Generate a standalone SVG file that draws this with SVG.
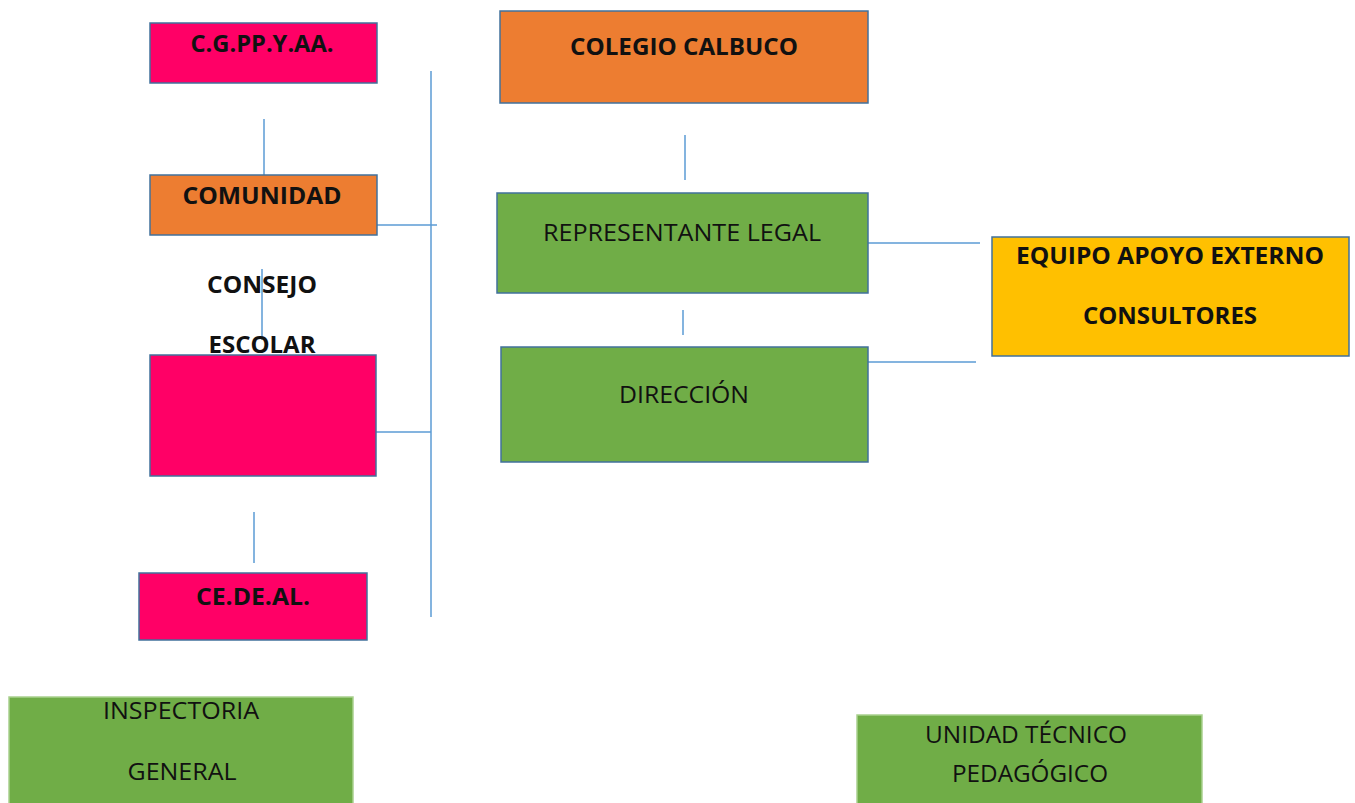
<svg xmlns="http://www.w3.org/2000/svg" width="1355" height="803" viewBox="0 0 1355 803">
<style>
.box{stroke:#41719C;stroke-width:1.5}
.pink{fill:#FF0066}
.orange{fill:#ED7D31}
.green{fill:#70AD47}
.yellow{fill:#FFC000}
.soft{fill:#70AD47;stroke:#A9D18E;stroke-width:1.5}
.t{font-family:"Open Sans","Noto Sans",sans-serif;font-size:24px;fill:#111;text-anchor:middle}
.b{font-weight:bold}
.c line{stroke:#5B9BD5;stroke-width:1.5}
</style>
<rect width="1355" height="803" fill="#fff"/>
<g class="c" id="connectors">
<line x1="264" y1="119" x2="264" y2="178"/>
<line x1="377" y1="225" x2="437" y2="225"/>
<line x1="431" y1="71" x2="431" y2="617"/>
<line x1="262" y1="269" x2="262" y2="340"/>
<line x1="376" y1="432" x2="431" y2="432"/>
<line x1="254" y1="512" x2="254" y2="563"/>
<line x1="685" y1="135" x2="685" y2="180"/>
<line x1="683" y1="310" x2="683" y2="335"/>
<line x1="868" y1="243" x2="980" y2="243"/>
<line x1="868" y1="362" x2="976" y2="362"/>
</g>
<g id="cgppyaa">
<rect class="box pink" x="150" y="23" width="227" height="60"/>
<text class="t b" x="262" y="52" textLength="143" lengthAdjust="spacingAndGlyphs">C.G.PP.Y.AA.</text>
</g>
<g id="comunidad">
<rect class="box orange" x="150" y="175" width="227" height="60"/>
<text class="t b" x="262" y="204" textLength="159" lengthAdjust="spacingAndGlyphs">COMUNIDAD</text>
</g>
<g id="consejo">
<text class="t b" x="262" y="293" textLength="110" lengthAdjust="spacingAndGlyphs">CONSEJO</text>
<text class="t b" x="262" y="353" textLength="107" lengthAdjust="spacingAndGlyphs">ESCOLAR</text>
<rect class="box pink" x="150" y="355" width="226" height="121"/>
</g>
<g id="cedeal">
<rect class="box pink" x="139" y="573" width="228" height="67"/>
<text class="t b" x="253" y="605" textLength="114" lengthAdjust="spacingAndGlyphs">CE.DE.AL.</text>
</g>
<g id="colegio">
<rect class="box orange" x="500" y="11" width="368" height="92"/>
<text class="t b" x="684" y="55" textLength="228" lengthAdjust="spacingAndGlyphs">COLEGIO CALBUCO</text>
</g>
<g id="representante">
<rect class="box green" x="497" y="193" width="371" height="100"/>
<text class="t" x="682" y="241" textLength="278" lengthAdjust="spacingAndGlyphs">REPRESENTANTE LEGAL</text>
</g>
<g id="direccion">
<rect class="box green" x="501" y="347" width="367" height="115"/>
<text class="t" x="684" y="403" textLength="130" lengthAdjust="spacingAndGlyphs">DIRECCIÓN</text>
</g>
<g id="equipo">
<rect class="box yellow" x="992" y="237" width="357" height="119"/>
<text class="t b" x="1170" y="264" textLength="308" lengthAdjust="spacingAndGlyphs">EQUIPO APOYO EXTERNO</text>
<text class="t b" x="1170" y="324" textLength="174" lengthAdjust="spacingAndGlyphs">CONSULTORES</text>
</g>
<g id="inspectoria">
<rect class="soft" x="9" y="697" width="344" height="120"/>
<text class="t" x="181" y="719" textLength="156" lengthAdjust="spacingAndGlyphs">INSPECTORIA</text>
<text class="t" x="182" y="780" textLength="109" lengthAdjust="spacingAndGlyphs">GENERAL</text>
</g>
<g id="utp">
<rect class="soft" x="857" y="715" width="345" height="110"/>
<text class="t" x="1026" y="743" textLength="202" lengthAdjust="spacingAndGlyphs">UNIDAD TÉCNICO</text>
<text class="t" x="1030" y="782" textLength="156" lengthAdjust="spacingAndGlyphs">PEDAGÓGICO</text>
</g>
</svg>
